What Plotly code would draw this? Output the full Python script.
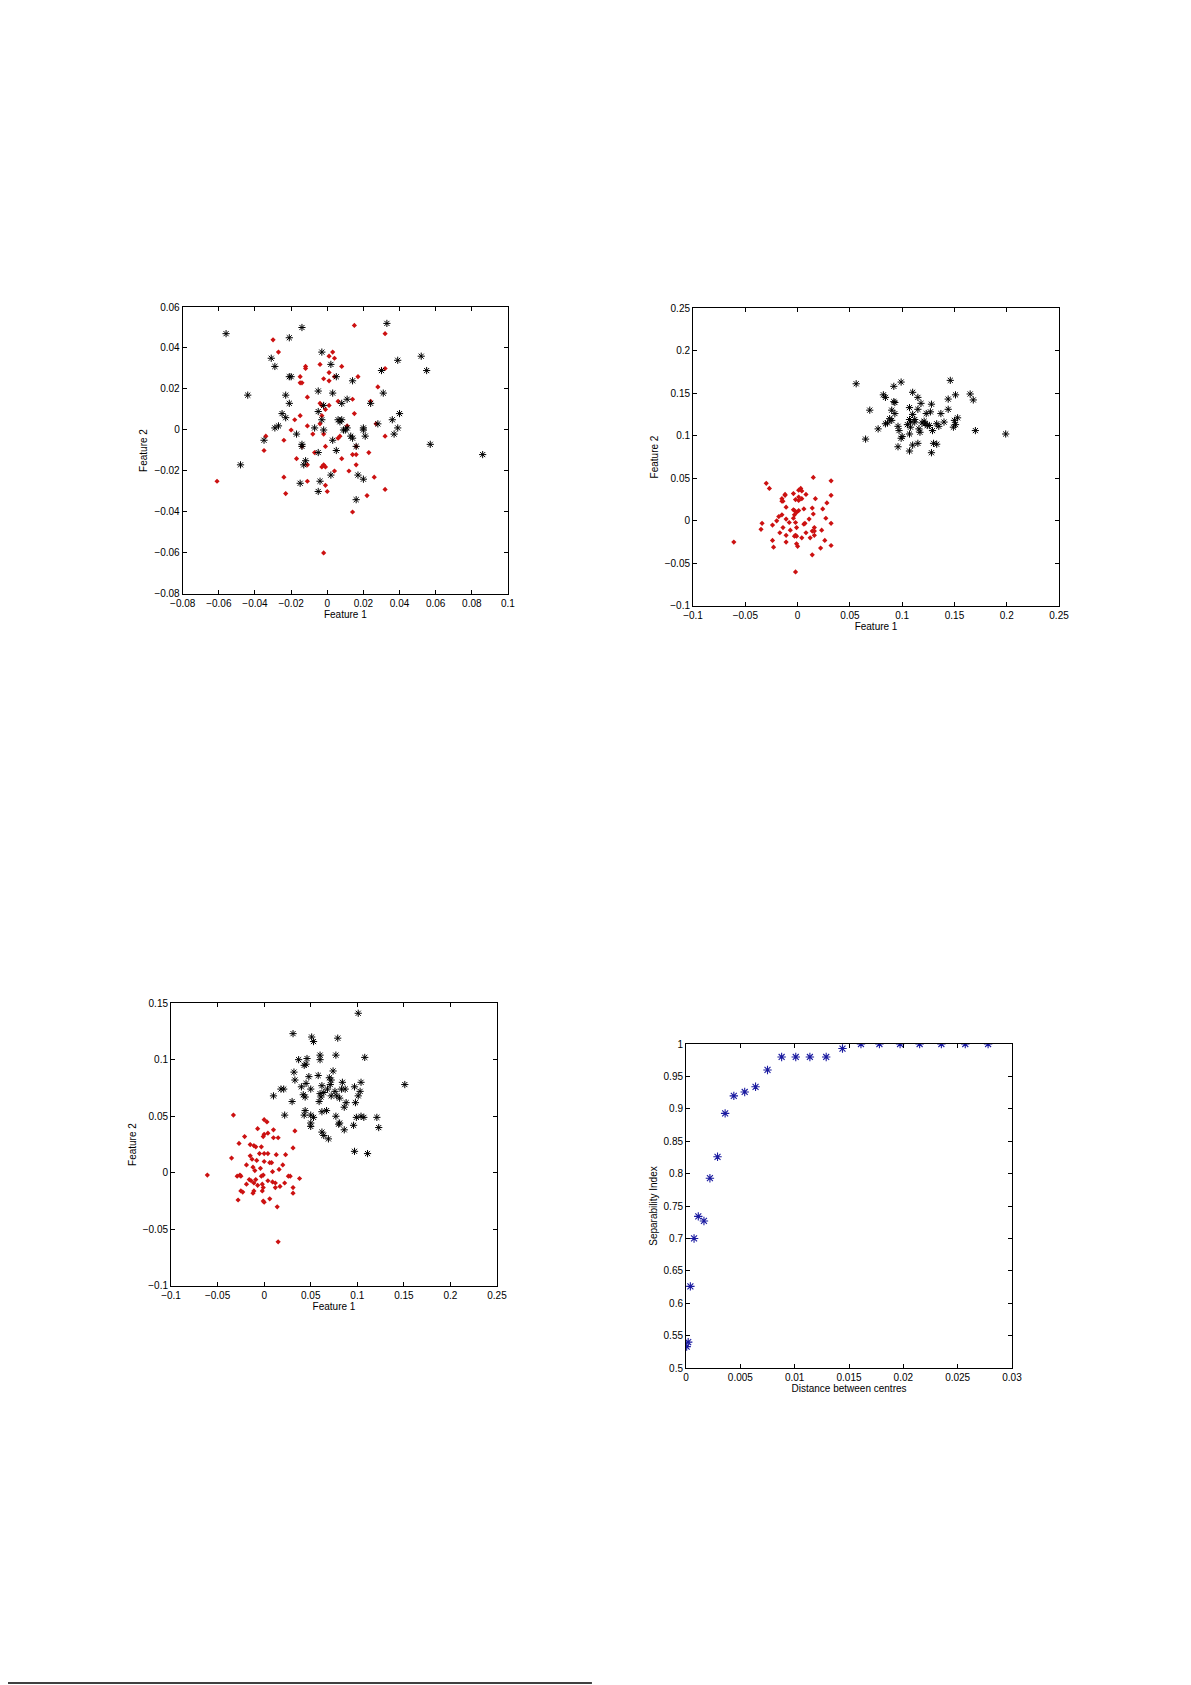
import plotly.graph_objects as go
from plotly.subplots import make_subplots

# Panel 1: overlapping classes
p1_black = [(-0.056,0.047),(-0.014,0.050),(0.033,0.052),(-0.021,0.045),(-0.031,0.035),(-0.029,0.031),(-0.003,0.038),(0.002,0.032),(0.039,0.034),(0.052,0.036),(0.055,0.029),(0.030,0.029),(-0.020,0.026),(-0.021,0.026),(0.005,0.026),(0.014,0.024),(-0.044,0.017),(-0.023,0.017),(-0.005,0.019),(0.003,0.018),(0.031,0.018),(-0.021,0.013),(-0.002,0.012),(0.008,0.013),(0.011,0.015),(0.024,0.013),(-0.025,0.008),(-0.023,0.006),(-0.005,0.009),(0.040,0.008),(-0.027,0.002),(-0.029,0.001),(-0.007,0.001),(-0.003,0.005),(0.006,0.005),(0.007,0.004),(0.008,0.005),(0.036,0.005),(0.028,0.003),(0.039,0.001),(-0.002,0.000),(0.009,0.000),(0.011,0.001),(0.010,0.000),(0.020,0.001),(0.020,0.000),(-0.035,-0.005),(-0.017,-0.002),(0.003,-0.005),(0.013,-0.003),(0.014,-0.004),(0.021,-0.003),(0.037,-0.002),(0.057,-0.007),(-0.014,-0.007),(-0.014,-0.008),(0.016,-0.008),(0.005,-0.010),(-0.005,-0.011),(0.086,-0.012),(-0.012,-0.015),(-0.013,-0.017),(-0.048,-0.017),(0.017,-0.022),(0.020,-0.024),(0.002,-0.022),(-0.004,-0.025),(-0.015,-0.026),(-0.005,-0.030),(0.016,-0.034)]
red_a = [(0.015,0.051),(0.032,0.047),(-0.030,0.044),(-0.027,0.038),(0.003,0.038),(0.004,0.035),(0.001,0.036),(-0.004,0.032),(0.008,0.031),(-0.012,0.031),(0.032,0.030),(-0.012,0.030),(0.001,0.028),(-0.015,0.026),(0.017,0.026),(-0.002,0.025),(0.004,0.026),(0.001,0.024),(-0.015,0.023),(-0.014,0.023),(0.028,0.021),(-0.011,0.016),(0.006,0.014),(0.014,0.015),(0.024,0.014),(-0.004,0.013),(-0.003,0.012),(0.001,0.012),(-0.001,0.010),(-0.003,0.007),(-0.015,0.007),(-0.018,0.005),(0.015,0.008),(-0.004,0.003),(0.027,0.003),(-0.011,0.002),(-0.020,0.000),(0.011,0.002),(-0.008,-0.002),(-0.002,-0.002),(0.007,-0.003),(0.006,-0.004),(-0.034,-0.003),(-0.024,-0.005),(0.032,-0.003),(-0.001,-0.008),(-0.014,-0.008),(0.016,-0.008),(-0.035,-0.010),(-0.007,-0.011),(0.014,-0.012),(0.016,-0.012),(0.023,-0.011),(-0.017,-0.014),(0.008,-0.014),(-0.011,-0.017),(-0.002,-0.017),(-0.001,-0.018),(-0.003,-0.018),(0.016,-0.017),(0.012,-0.020),(0.004,-0.020),(0.026,-0.023),(-0.024,-0.023),(-0.061,-0.025),(-0.011,-0.025),(-0.001,-0.027),(0.000,-0.030),(0.032,-0.029),(-0.023,-0.031),(0.022,-0.032),(0.014,-0.040),(-0.002,-0.060)]

# Panel 2: well separated
p2_black = [(0.056,0.161),(0.099,0.163),(0.146,0.165),(0.092,0.158),(0.082,0.148),(0.084,0.145),(0.110,0.151),(0.115,0.145),(0.151,0.148),(0.165,0.149),(0.168,0.142),(0.144,0.143),(0.092,0.140),(0.093,0.139),(0.107,0.133),(0.118,0.138),(0.128,0.137),(0.069,0.130),(0.090,0.130),(0.093,0.126),(0.110,0.125),(0.115,0.131),(0.123,0.126),(0.127,0.128),(0.137,0.126),(0.144,0.131),(0.088,0.120),(0.090,0.118),(0.107,0.119),(0.112,0.119),(0.153,0.121),(0.086,0.115),(0.084,0.114),(0.105,0.113),(0.108,0.116),(0.112,0.116),(0.119,0.115),(0.121,0.117),(0.124,0.112),(0.140,0.116),(0.150,0.118),(0.151,0.113),(0.096,0.111),(0.108,0.110),(0.122,0.114),(0.126,0.112),(0.133,0.114),(0.135,0.111),(0.077,0.108),(0.116,0.108),(0.097,0.106),(0.129,0.106),(0.149,0.110),(0.170,0.106),(0.199,0.102),(0.100,0.099),(0.099,0.097),(0.107,0.102),(0.117,0.104),(0.065,0.096),(0.115,0.091),(0.130,0.091),(0.133,0.090),(0.096,0.087),(0.110,0.089),(0.107,0.082),(0.128,0.080)]

# Panel 3: partly separated
p3_black = [(0.101,0.141),(0.031,0.123),(0.051,0.120),(0.053,0.116),(0.079,0.119),(0.060,0.104),(0.060,0.100),(0.077,0.104),(0.108,0.102),(0.037,0.100),(0.046,0.101),(0.043,0.095),(0.045,0.096),(0.074,0.090),(0.032,0.089),(0.048,0.085),(0.058,0.086),(0.070,0.084),(0.033,0.082),(0.072,0.082),(0.084,0.080),(0.104,0.080),(0.045,0.079),(0.040,0.076),(0.062,0.077),(0.071,0.078),(0.151,0.078),(0.018,0.074),(0.021,0.074),(0.050,0.074),(0.060,0.070),(0.064,0.071),(0.068,0.074),(0.076,0.072),(0.083,0.074),(0.087,0.074),(0.097,0.076),(0.103,0.072),(0.010,0.068),(0.042,0.069),(0.044,0.067),(0.061,0.067),(0.072,0.068),(0.078,0.068),(0.081,0.066),(0.101,0.068),(0.030,0.063),(0.059,0.063),(0.088,0.062),(0.086,0.058),(0.098,0.062),(0.067,0.055),(0.062,0.054),(0.044,0.055),(0.022,0.051),(0.043,0.051),(0.050,0.051),(0.053,0.049),(0.077,0.050),(0.099,0.049),(0.104,0.050),(0.107,0.049),(0.121,0.049),(0.050,0.044),(0.050,0.041),(0.081,0.044),(0.080,0.043),(0.096,0.042),(0.123,0.040),(0.086,0.038),(0.062,0.036),(0.064,0.033),(0.069,0.030),(0.097,0.019),(0.111,0.017)]
p3_red = [(-0.033,0.051),(0.000,0.047),(0.003,0.045),(-0.007,0.039),(0.010,0.038),(0.033,0.037),(0.004,0.035),(0.000,0.034),(-0.001,0.032),(-0.021,0.032),(0.010,0.031),(0.015,0.031),(-0.027,0.026),(-0.015,0.025),(-0.011,0.024),(-0.009,0.023),(-0.003,0.023),(0.031,0.022),(-0.005,0.017),(0.000,0.017),(0.004,0.017),(0.013,0.016),(0.023,0.016),(-0.015,0.015),(-0.035,0.013),(-0.013,0.012),(-0.008,0.011),(0.000,0.010),(0.006,0.009),(0.008,0.009),(-0.019,0.007),(0.020,0.007),(-0.012,0.005),(-0.004,0.004),(-0.010,0.002),(0.009,0.001),(0.016,0.003),(-0.001,-0.002),(-0.003,-0.003),(-0.026,-0.002),(-0.029,-0.003),(-0.025,-0.003),(-0.061,-0.002),(0.026,-0.003),(0.028,-0.003),(0.038,-0.005),(-0.016,-0.006),(-0.014,-0.007),(-0.009,-0.006),(0.004,-0.007),(0.009,-0.008),(-0.011,-0.009),(-0.019,-0.010),(-0.002,-0.010),(0.012,-0.009),(0.017,-0.012),(-0.007,-0.011),(0.022,-0.009),(0.031,-0.013),(-0.001,-0.013),(0.012,-0.013),(-0.025,-0.016),(-0.023,-0.017),(-0.011,-0.016),(-0.012,-0.018),(0.031,-0.018),(-0.002,-0.016),(-0.028,-0.024),(-0.001,-0.025),(0.000,-0.026),(0.006,-0.023),(0.014,-0.030),(0.015,-0.061)]

# Panel 4: separability index vs distance
dist = [0.00006,0.0002,0.0004,0.00074,0.00113,0.00165,0.0022,0.0029,0.0036,0.0044,0.0054,0.0064,0.0075,0.0088,0.0101,0.0114,0.0129,0.0144,0.0161,0.0178,0.0197,0.0215,0.0235,0.0257,0.0278]
sep_index = [0.533,0.540,0.626,0.700,0.734,0.727,0.793,0.826,0.893,0.920,0.926,0.934,0.960,0.980,0.980,0.980,0.980,0.993,1,1,1,1,1,1,1]

RED = '#cc1111'
BLUE = '#1a1aa0'
fig = make_subplots(rows=2, cols=2)

def black_trace(pts, r, c):
    fig.add_trace(go.Scatter(x=[p[0] for p in pts], y=[p[1] for p in pts], mode='markers',
        marker=dict(symbol='asterisk-open', size=6, color='black', line=dict(color='black', width=1))), row=r, col=c)

def red_trace(pts, r, c):
    fig.add_trace(go.Scatter(x=[p[0] for p in pts], y=[p[1] for p in pts], mode='markers',
        marker=dict(symbol='diamond', size=4, color=RED)), row=r, col=c)

red_trace(red_a, 1, 1)
black_trace(p1_black, 1, 1)
red_trace(red_a, 1, 2)
black_trace(p2_black, 1, 2)
red_trace(p3_red, 2, 1)
black_trace(p3_black, 2, 1)
fig.add_trace(go.Scatter(x=dist, y=sep_index, mode='markers',
    marker=dict(symbol='asterisk-open', size=7, color=BLUE, line=dict(color=BLUE, width=1.1))), row=2, col=2)

ax = dict(showline=True, linecolor='black', linewidth=1, mirror='ticks', ticks='inside',
          ticklen=4, tickcolor='black', showgrid=False, zeroline=False, automargin=False,
          tickfont=dict(size=10, color='black', family='Liberation Sans'))
tf = dict(size=10, color='black', family='Liberation Sans')

# page body margin offset (8px) compensated in the domains
dx = 8 / 1191
dy = 8 / 1685

def xd(a, b):
    return [a - dx, b - dx]

def yd(a, b):
    return [a + dy, b + dy]

fig.update_layout(
    width=1191, height=1685, margin=dict(l=0, r=0, t=0, b=0),
    paper_bgcolor='white', plot_bgcolor='white', showlegend=False,
    xaxis=dict(ax, domain=xd(0.1534, 0.4265), range=[-0.08, 0.1], dtick=0.02, title=dict(text='Feature 1', font=tf, standoff=2)),
    yaxis=dict(ax, domain=yd(0.6475, 0.8178), range=[-0.08, 0.06], dtick=0.02, title=dict(text='Feature 2', font=tf, standoff=4)),
    xaxis2=dict(ax, domain=xd(0.5819, 0.8892), range=[-0.1, 0.25], dtick=0.05, title=dict(text='Feature 1', font=tf, standoff=2)),
    yaxis2=dict(ax, domain=yd(0.6404, 0.8172), range=[-0.1, 0.25], dtick=0.05, title=dict(text='Feature 2', font=tf, standoff=4)),
    xaxis3=dict(ax, domain=xd(0.1436, 0.4173), range=[-0.1, 0.25], dtick=0.05, title=dict(text='Feature 1', font=tf, standoff=2)),
    yaxis3=dict(ax, domain=yd(0.2368, 0.4047), range=[-0.1, 0.15], dtick=0.05, title=dict(text='Feature 2', font=tf, standoff=4)),
    xaxis4=dict(ax, domain=xd(0.576, 0.8497), range=[0, 0.03], dtick=0.005, title=dict(text='Distance between centres', font=tf, standoff=2)),
    yaxis4=dict(ax, domain=yd(0.1881, 0.3804), range=[0.5, 1], dtick=0.05, title=dict(text='Separability Index', font=tf, standoff=4)),
)

# page rule at the bottom
fig.add_shape(type='line', xref='paper', yref='paper', x0=0, x1=0.497 - dx, y0=0.0012 + dy, y1=0.0012 + dy,
              line=dict(color='black', width=1.5))

fig.write_html("out.html")
